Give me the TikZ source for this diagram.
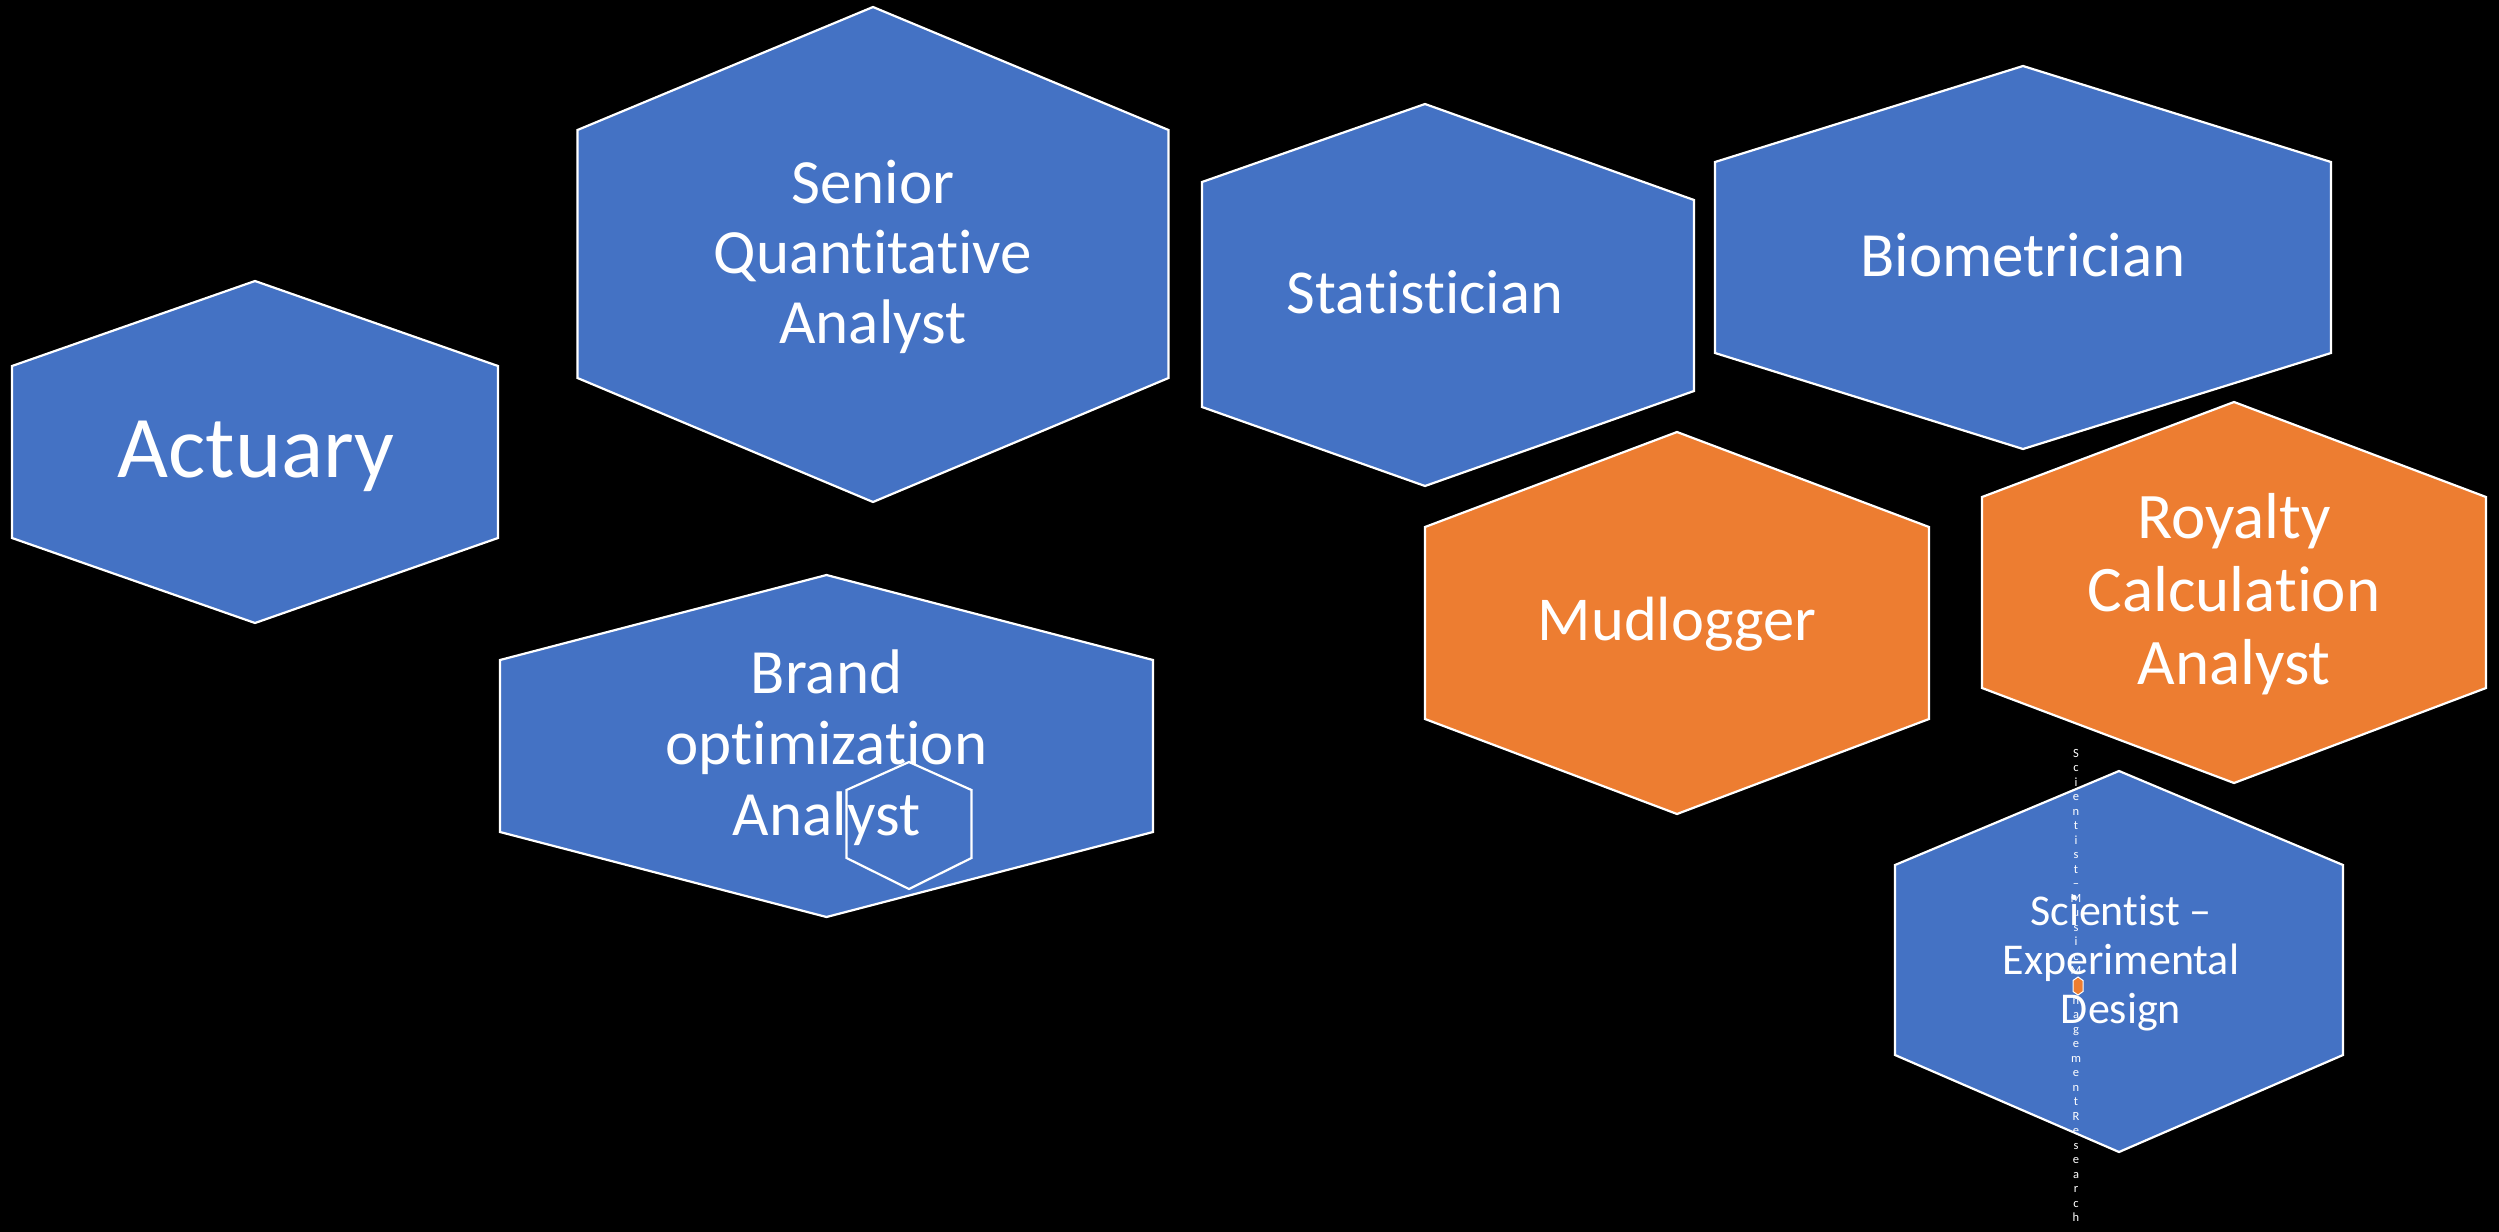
\documentclass[tikz,border=0pt]{standalone}
\usepackage{fontspec}
\setmainfont{Carlito}[Ligatures={NoCommon}]
\definecolor{hexblue}{HTML}{4472C4}
\definecolor{hexorange}{HTML}{ED7D31}
\newcommand{\stackl}[1]{\begin{tabular}[t]{@{}c@{}}#1\end{tabular}}
\begin{document}
\begin{tikzpicture}[x=1pt,y=-1pt,
  bluehex/.style={fill=hexblue, draw=white, line width=2.2pt, line join=miter},
  orangehex/.style={fill=hexorange, draw=white, line width=2.2pt, line join=miter},
  outlinehex/.style={draw=white, line width=2.2pt, line join=miter},
  lbl/.style={text=white, inner sep=0pt, anchor=base},
  bigtxt/.style={font=\fontsize{63}{70}\selectfont}]
% frame and background
\useasboundingbox (0,0) rectangle (2499,1231);
\fill[black] (-6,-6) rectangle (2505,1237);

% Actuary
\path[bluehex] (255,281) -- (498,366) -- (498,538) -- (255,623) -- (12,538) -- (12,366) -- cycle;
\node[lbl, font=\fontsize{88}{96}\selectfont] (actuary) at (256,477) {Actuary};

% Senior Quantitative Analyst
\path[bluehex] (873,7) -- (1168.5,130) -- (1168.5,378) -- (873,502) -- (577.5,378) -- (577.5,130) -- cycle;
\node[lbl, bigtxt] (sqa) at (873,203) {\stackl{Senior\\Quantitative\\Analyst}};

% Statistician (left side cut straight)
\path[bluehex] (1425,104) -- (1694,200) -- (1694,391) -- (1425,486) -- (1202,407) -- (1202,182) -- cycle;
\node[lbl, font=\fontsize{62.5}{70}\selectfont] (stat) at (1425,313) {Statistician};

% Biometrician
\path[bluehex] (2023,66) -- (2331,162) -- (2331,353) -- (2023,449) -- (1715,353) -- (1715,162) -- cycle;
\node[lbl, bigtxt] (bio) at (2023,276) {Biometrician};

% Mudlogger
\path[orangehex] (1677,432) -- (1929,527) -- (1929,719) -- (1677,814) -- (1425,719) -- (1425,527) -- cycle;
\node[lbl, font=\fontsize{62.5}{70}\selectfont] (mud) at (1677,640) {Mudlogger};

% Royalty Calculation Analyst
\path[orangehex] (2234,402) -- (2486,497) -- (2486,688) -- (2234,783) -- (1982,688) -- (1982,497) -- cycle;
\node[lbl, font=\fontsize{65}{73}\selectfont] (roy) at (2234,538) {\stackl{Royalty\\Calculation\\Analyst}};

% Brand optimization Analyst
\path[bluehex] (826.5,575) -- (1153,660) -- (1153,832) -- (826.5,917) -- (500,832) -- (500,660) -- cycle;
\node[lbl, font=\fontsize{63}{71}\selectfont] (brand) at (826.5,693) {\stackl{Brand\\optimization\\Analyst}};
\path[outlinehex] (909,762) -- (971.5,790) -- (971.5,858) -- (909,889) -- (846.5,858) -- (846.5,790) -- cycle;

% Scientist - Experimental Design
\path[bluehex] (2119,771) -- (2343,865) -- (2343,1055) -- (2119,1152) -- (1895,1055) -- (1895,865) -- cycle;
\node[lbl, font=\fontsize{12.5}{14.53}\selectfont] (vt) at (2076,757)
  {\stackl{S\\c\\i\\e\\n\\t\\i\\s\\t\\–\\M\\u\\s\\i\\c\\M\\a\\n\\a\\g\\e\\m\\e\\n\\t\\R\\e\\s\\e\\a\\r\\c\\h}};
\path[orangehex, line width=1pt] (2078,977) -- (2083,980.5) -- (2083,991.5) -- (2078,995) -- (2073,991.5) -- (2073,980.5) -- cycle;
\node[lbl, font=\fontsize{44}{49}\selectfont] (sci) at (2121,925) {\stackl{Scientist –\\Experimental\\Design}};
\end{tikzpicture}
\end{document}
